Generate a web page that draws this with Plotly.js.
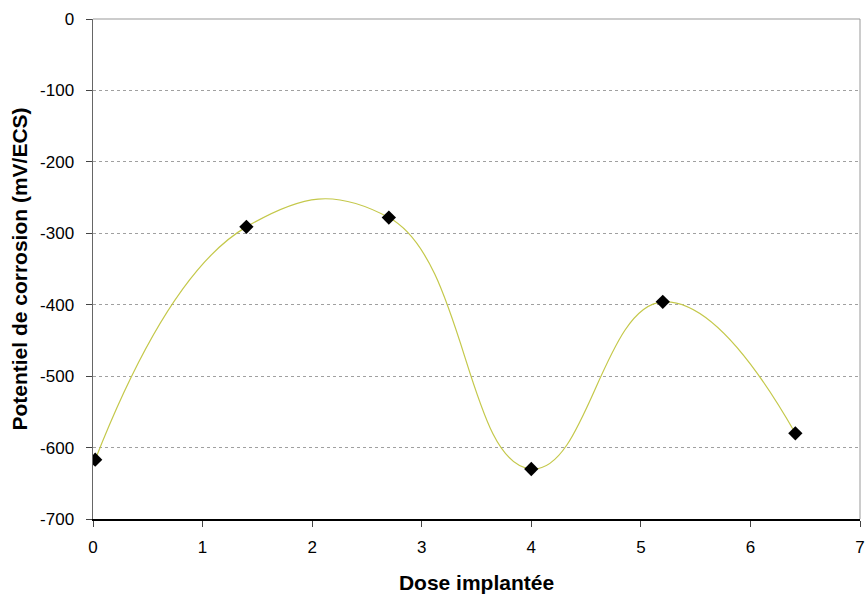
<!DOCTYPE html>
<html>
<head>
<meta charset="utf-8">
<script src="https://cdn.plot.ly/plotly-3.0.1.min.js"></script>
<style>html,body{margin:0;padding:0;background:#fff;}#chart{width:866px;height:594px;}</style>
</head>
<body>
<div id="chart"></div>
<script>
var dose = [0.02, 1.4, 2.7, 4.0, 5.2, 6.41];
var potentiel = [-617, -291, -278, -630, -396, -580];
var xTicks = [0, 1, 2, 3, 4, 5, 6, 7];
var yTicks = [0, -100, -200, -300, -400, -500, -600, -700];

var traces = [
  {x: dose, y: potentiel, type: 'scatter', mode: 'lines',
   line: {shape: 'spline', smoothing: 1.3, color: '#c4c84a', width: 1.2},
   hoverinfo: 'skip', showlegend: false},
  {x: dose, y: potentiel, type: 'scatter', mode: 'markers',
   marker: {symbol: 'diamond', size: 11, color: '#000'}, showlegend: false}
];

var layout = {
  width: 866, height: 594,
  margin: {l: 93, r: 6, t: 19, b: 75},
  paper_bgcolor: '#fff', plot_bgcolor: '#fff',
  font: {family: 'Liberation Sans, Arial, sans-serif', size: 17, color: '#000'},
  showlegend: false,
  xaxis: {
    range: [0, 7], tickvals: xTicks, ticktext: xTicks.map(String),
    showgrid: false, zeroline: false,
    showline: true, linecolor: '#000', linewidth: 1.5,
    ticks: 'outside', ticklen: 6, tickcolor: '#444', tickwidth: 1,
    ticklabelstandoff: 6,
    tickfont: {size: 17},
    title: {text: '<b>Dose implantée</b>', font: {size: 21}, standoff: 22}
  },
  yaxis: {
    range: [-700, 0], tickvals: yTicks, ticktext: yTicks.map(String),
    showgrid: true, gridcolor: '#a0a0a0', griddash: '3px,3px', gridwidth: 1,
    zeroline: false,
    showline: true, linecolor: '#666', linewidth: 1.5,
    ticks: 'outside', ticklen: 6, tickcolor: '#444', tickwidth: 1,
    ticklabelstandoff: 8,
    tickfont: {size: 17},
    title: {text: '<b>Potentiel de corrosion (mV/ECS)</b>', font: {size: 21}, standoff: 6}
  },
  shapes: [
    {type: 'line', xref: 'paper', yref: 'paper', x0: 0, x1: 1, y0: 1, y1: 1, line: {color: '#999', width: 1}},
    {type: 'line', xref: 'paper', yref: 'paper', x0: 1, x1: 1, y0: 0, y1: 1, line: {color: '#999', width: 1}}
  ]
};

Plotly.newPlot('chart', traces, layout, {displayModeBar: false, staticPlot: true});
</script>
</body>
</html>
